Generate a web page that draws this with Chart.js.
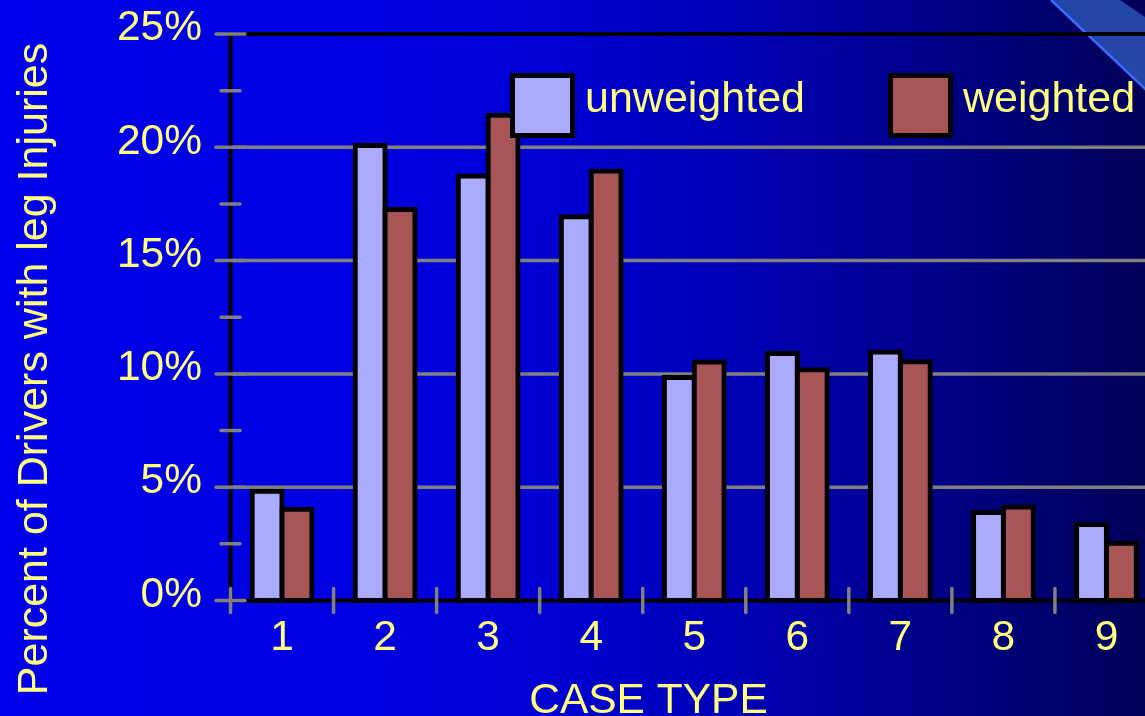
<!DOCTYPE html>
<html>
<head>
<meta charset="utf-8">
<title>Percent of Drivers with leg Injuries by Case Type</title>
<style>
  html, body { margin: 0; padding: 0; overflow: hidden; width: 1145px; height: 716px; background: #0000c8; }
  canvas { display: block; }
</style>
<script src="https://cdn.jsdelivr.net/npm/chart.js@4.4.1/dist/chart.umd.min.js"></script>
</head>
<body>
<canvas id="chart" width="1158" height="716"></canvas>
<script>
// ---- data ----
const categories = ['1', '2', '3', '4', '5', '6', '7', '8', '9'];
const unweighted = [4.82, 20.08, 18.73, 16.93, 9.84, 10.90, 10.97, 3.88, 3.35];
const weighted   = [4.03, 17.26, 21.41, 18.95, 10.53, 10.18, 10.54, 4.13, 2.53];
const seriesNames = ['unweighted', 'weighted'];
const yTickValues = [0, 5, 10, 15, 20, 25];
const yTickLabels = ['0%', '5%', '10%', '15%', '20%', '25%'];
const yTitle = 'Percent of Drivers with leg Injuries';
const xTitle = 'CASE TYPE';

// ---- styling ----
const FONT = '"Liberation Sans", Arial, sans-serif';
const TEXT = '#ffff80';
const GRAY = '#808080';
const BLACK = '#000000';
const SERIES_COLORS = ['#aaaaff', '#aa5555'];

function seg(ctx, x1, y1, x2, y2) {
  ctx.beginPath();
  ctx.moveTo(x1, y1);
  ctx.lineTo(x2, y2);
  ctx.stroke();
}

// Slide background: blue gradient plus the diagonal band in the corner
const backdrop = {
  id: 'backdrop',
  beforeDraw(chart) {
    const { ctx, width, height } = chart;
    ctx.save();
    const g = ctx.createLinearGradient(0, 0, 1145, 0);
    g.addColorStop(0.00, '#0000ec');
    g.addColorStop(0.33, '#0000e0');
    g.addColorStop(0.50, '#0000d0');
    g.addColorStop(0.66, '#0000b2');
    g.addColorStop(0.83, '#000084');
    g.addColorStop(1.00, '#000058');
    ctx.fillStyle = g;
    ctx.fillRect(0, 0, width, height);

    ctx.fillStyle = '#2446a8';
    ctx.beginPath();
    ctx.moveTo(1051, 0);
    ctx.lineTo(1120, 0);
    ctx.lineTo(1160, 27);
    ctx.lineTo(1160, 103);
    ctx.closePath();
    ctx.fill();
    ctx.strokeStyle = '#3c6cff';
    ctx.lineWidth = 2.5;
    seg(ctx, 1051, 0, 1160, 103);
    ctx.restore();
  }
};

// Gridlines, axis lines and tick marks
const axesFrame = {
  id: 'axesFrame',
  beforeDatasetsDraw(chart) {
    const { ctx, chartArea: a, scales: { x, y } } = chart;
    ctx.save();
    ctx.lineCap = 'butt';

    ctx.strokeStyle = GRAY;
    ctx.lineWidth = 3.5;
    yTickValues.forEach(v => {
      if (v > y.min && v < y.max) {
        const py = y.getPixelForValue(v);
        seg(ctx, a.left, py, a.right, py);
      }
    });

    ctx.strokeStyle = BLACK;
    ctx.lineWidth = 4;
    const yTop = y.getPixelForValue(y.max);
    seg(ctx, a.left, yTop, a.right, yTop);
    seg(ctx, a.left, a.bottom, a.right, a.bottom);
    seg(ctx, a.left, a.top - 2, a.left, a.bottom + 2);

    ctx.strokeStyle = GRAY;
    ctx.lineWidth = 3.5;
    ctx.lineCap = 'round';
    y.ticks.forEach(t => {
      const py = y.getPixelForValue(t.value);
      const half = yTickValues.includes(t.value) ? 14.5 : 9.5;
      seg(ctx, a.left - half, py, a.left + half, py);
    });
    for (let i = 0; i < categories.length; i++) {
      const px = x.getPixelForValue(i - 0.5);
      seg(ctx, px, a.bottom - 12, px, a.bottom + 12);
    }
    ctx.restore();
  }
};

// Weighted bars are painted in front of the unweighted ones
const barLayering = {
  id: 'barLayering',
  beforeDatasetDraw(chart, args) {
    if (args.index === 1) return false;
  },
  afterDatasetDraw(chart, args) {
    if (args.index === 0) chart.getDatasetMeta(1).controller.draw();
  }
};

// Legend drawn inside the plot area, above the bars
const legendBox = {
  id: 'legendBox',
  afterDatasetsDraw(chart) {
    const { ctx } = chart;
    const boxLeft = [510, 888];
    ctx.save();
    chart.data.datasets.forEach((ds, i) => {
      const bx = boxLeft[i];
      ctx.fillStyle = ds.backgroundColor;
      ctx.fillRect(bx + 2.5, 75.5, 60, 60);
      ctx.strokeStyle = BLACK;
      ctx.lineWidth = 5;
      ctx.strokeRect(bx + 2.5, 75.5, 60, 60);
      ctx.fillStyle = TEXT;
      ctx.font = `43px ${FONT}`;
      ctx.textAlign = 'left';
      ctx.textBaseline = 'alphabetic';
      ctx.fillText(ds.label, bx + 75, 111.5);
    });
    ctx.restore();
  }
};

// Axis titles
const axisTitles = {
  id: 'axisTitles',
  afterDraw(chart) {
    const { ctx } = chart;
    ctx.save();
    ctx.fillStyle = TEXT;
    ctx.font = `42.5px ${FONT}`;
    ctx.textAlign = 'center';
    ctx.textBaseline = 'alphabetic';
    ctx.fillText(xTitle, 648.5, 712.5);
    ctx.translate(47, 369);
    ctx.rotate(-Math.PI / 2);
    ctx.font = `43px ${FONT}`;
    ctx.fillText(yTitle, 0, 0);
    ctx.restore();
  }
};

new Chart(document.getElementById('chart'), {
  type: 'bar',
  data: {
    labels: categories,
    datasets: [
      { label: seriesNames[0], data: unweighted, backgroundColor: SERIES_COLORS[0] },
      { label: seriesNames[1], data: weighted, backgroundColor: SERIES_COLORS[1] }
    ]
  },
  options: {
    responsive: false,
    animation: false,
    devicePixelRatio: 1,
    layout: { padding: { top: 34, left: 0, right: 0, bottom: 0 } },
    datasets: {
      bar: {
        borderColor: BLACK,
        borderWidth: 5,
        borderSkipped: false,
        inflateAmount: 2.5,
        categoryPercentage: 0.58,
        barPercentage: 1,
        clip: false
      }
    },
    plugins: {
      legend: { display: false },
      tooltip: { enabled: false }
    },
    scales: {
      x: {
        grid: { display: false, drawTicks: false },
        border: { display: false },
        ticks: {
          color: TEXT,
          font: { family: FONT, size: 42.5 },
          padding: 12,
          maxRotation: 0,
          autoSkip: false
        },
        afterFit(scale) {
          scale.height = 115.5;
          scale.paddingLeft = 0;
          scale.paddingRight = 0;
        }
      },
      y: {
        min: 0,
        max: 25,
        grid: { display: false, drawTicks: false },
        border: { display: false },
        ticks: {
          stepSize: 2.5,
          autoSkip: false,
          color: TEXT,
          font: { family: FONT, size: 42.5 },
          padding: 28.5,
          labelOffset: -5.5,
          callback(value) {
            const k = yTickValues.indexOf(value);
            return k >= 0 ? yTickLabels[k] : '';
          }
        },
        afterFit(scale) {
          scale.width = 230.5;
          scale.paddingTop = 0;
          scale.paddingBottom = 0;
        }
      }
    }
  },
  plugins: [backdrop, axesFrame, barLayering, legendBox, axisTitles]
});
</script>
</body>
</html>
